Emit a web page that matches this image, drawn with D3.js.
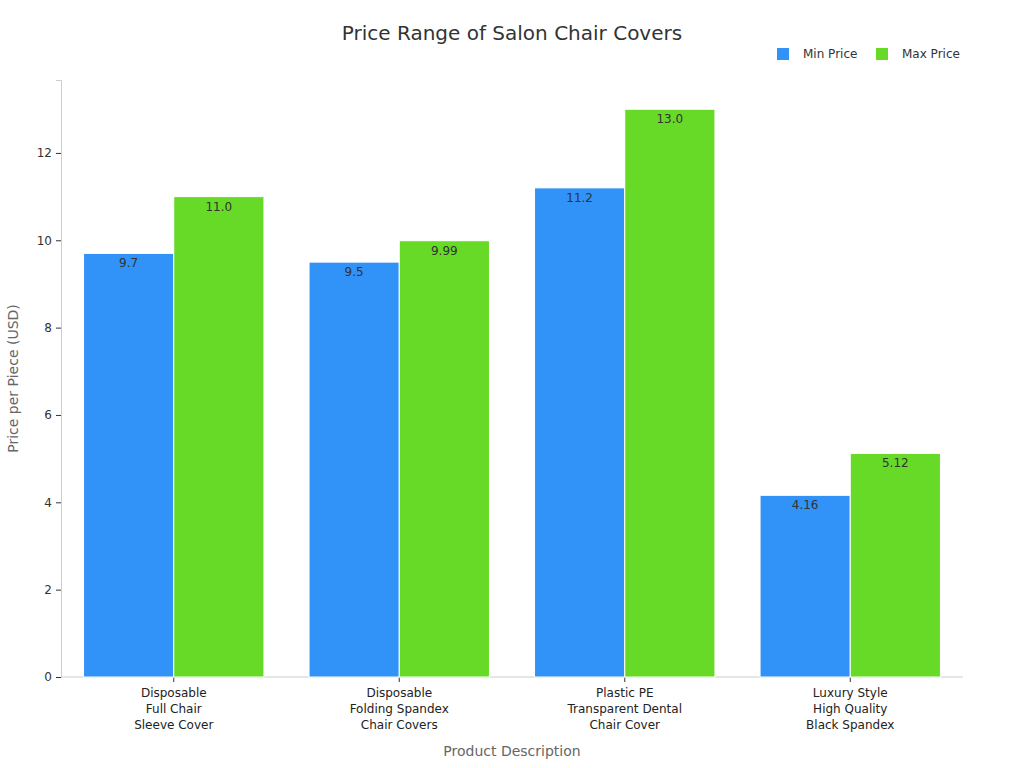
<!DOCTYPE html>
<html>
<head>
<meta charset="utf-8">
<script src="https://cdn.jsdelivr.net/npm/d3@7"></script>
<style>
  body { margin: 0; background: #fff; }
  text { font-family: "DejaVu Sans", sans-serif; }
</style>
</head>
<body>
<svg id="chart" width="1024" height="768"></svg>
<script>
// data
var categories = [
  ['Disposable', 'Full Chair', 'Sleeve Cover'],
  ['Disposable', 'Folding Spandex', 'Chair Covers'],
  ['Plastic PE', 'Transparent Dental', 'Chair Cover'],
  ['Luxury Style', 'High Quality', 'Black Spandex']
];
var minPrice = [9.7, 9.5, 11.2, 4.16];
var maxPrice = [11.0, 9.99, 13.0, 5.12];
var minLabels = ['9.7', '9.5', '11.2', '4.16'];
var maxLabels = ['11.0', '9.99', '13.0', '5.12'];
var seriesNames = ['Min Price', 'Max Price'];
var yTicks = [0, 2, 4, 6, 8, 10, 12];

var COLORS = ['#3192f7', '#67da27'];
var margin = { top: 80, right: 61, bottom: 91, left: 61 };
var W = 1024, H = 768;
var w = W - margin.left - margin.right;
var h = H - margin.top - margin.bottom;

var svg = d3.select('#chart');
var g = svg.append('g').attr('transform', 'translate(' + margin.left + ',' + margin.top + ')');

var keys = d3.range(categories.length);
var x = d3.scaleBand().domain(keys).range([0, w]).paddingInner(0.2).paddingOuter(0.1);
var xs = d3.scaleBand().domain([0, 1]).range([0, x.bandwidth()]);
var y = d3.scaleLinear().domain([0, 13.67]).range([h, 0]);

// axes
var yAxis = g.append('g').call(d3.axisLeft(y).tickValues(yTicks).tickSize(5).tickPadding(4));
yAxis.select('.domain').attr('stroke', '#ccc');
yAxis.selectAll('.tick line').attr('stroke', '#333');
yAxis.selectAll('.tick text').attr('fill', '#333').style('font-size', '12px');

var xAxis = g.append('g').attr('transform', 'translate(0,' + h + ')')
  .call(d3.axisBottom(x).tickSize(5).tickFormat(''));
xAxis.select('.domain').attr('stroke', '#ccc').attr('d', 'M0,0H' + w);
xAxis.selectAll('.tick line').attr('stroke', '#333');
xAxis.selectAll('.tick').each(function(d) {
  var t = d3.select(this).append('text')
    .attr('fill', '#222').attr('text-anchor', 'middle').style('font-size', '12px');
  categories[d].forEach(function(line, i) {
    t.append('tspan').attr('x', 0).attr('y', 20 + i * 16).text(line);
  });
});

// bars
var series = [minPrice, maxPrice];
var labels = [minLabels, maxLabels];
series.forEach(function(vals, s) {
  var grp = g.append('g');
  grp.selectAll('rect').data(vals).enter().append('rect')
    .attr('x', function(d, i) { return x(i) + xs(s); })
    .attr('y', function(d) { return y(d); })
    .attr('width', xs.bandwidth())
    .attr('height', function(d) { return h - y(d); })
    .attr('fill', COLORS[s])
    .attr('stroke', '#fff')
    .attr('stroke-width', 1);
  grp.selectAll('text').data(vals).enter().append('text')
    .attr('x', function(d, i) { return x(i) + xs(s) + xs.bandwidth() / 2; })
    .attr('y', function(d) { return y(d) + 14; })
    .attr('text-anchor', 'middle')
    .attr('fill', '#333')
    .style('font-size', '12px')
    .text(function(d, i) { return labels[s][i]; });
});

// title
svg.append('text').attr('x', 512).attr('y', 40).attr('text-anchor', 'middle')
  .attr('fill', '#333').style('font-size', '20px').text('Price Range of Salon Chair Covers');

// axis titles
svg.append('text').attr('x', 512).attr('y', 756).attr('text-anchor', 'middle')
  .attr('fill', '#666').style('font-size', '14px').text('Product Description');
svg.append('text').attr('transform', 'translate(18,' + (margin.top + h / 2) + ') rotate(-90)')
  .attr('text-anchor', 'middle').attr('fill', '#666').style('font-size', '14px')
  .text('Price per Piece (USD)');

// legend
var legendX = [777, 876];
seriesNames.forEach(function(name, i) {
  svg.append('rect').attr('x', legendX[i]).attr('y', 48).attr('width', 12).attr('height', 12)
    .attr('fill', COLORS[i]);
  svg.append('text').attr('x', legendX[i] + 26).attr('y', 58).attr('fill', '#333')
    .style('font-size', '12px').text(name);
});
</script>
</body>
</html>
